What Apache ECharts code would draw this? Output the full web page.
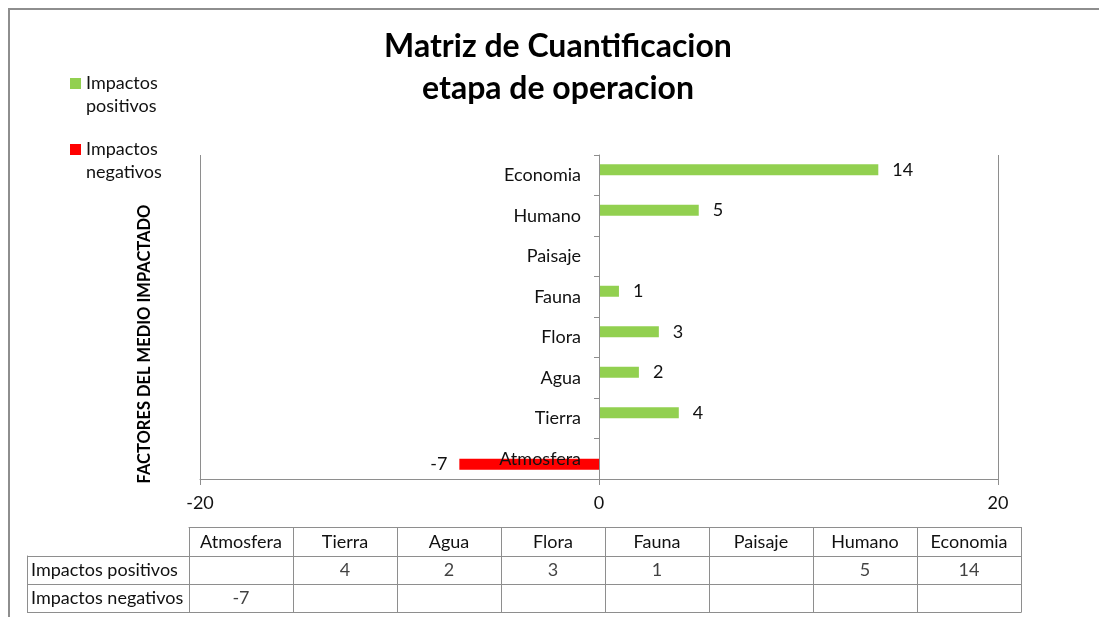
<!DOCTYPE html>
<html>
<head>
<meta charset="utf-8">
<script src="https://cdn.jsdelivr.net/npm/echarts@6/dist/echarts.min.js"></script>
<style>
  html, body { margin: 0; padding: 0; background: #fff; }
  #container { width: 1099px; height: 617px; }
</style>
</head>
<body>
<div id="container"></div>
<script>
// datos
var factores = ['Atmosfera', 'Tierra', 'Agua', 'Flora', 'Fauna', 'Paisaje', 'Humano', 'Economia'];
var positivos = [null, 4, 2, 3, 1, null, 5, 14];
var negativos = [-7, null, null, null, null, null, null, null];
var filas = ['Impactos positivos', 'Impactos negativos'];
var xTicks = [-20, 0, 20];

var dom = document.getElementById('container');
var myChart = echarts.init(dom);

var gris = '#8e8e8e';
var texto = '#111';
var fuente = 'Lato, "Open Sans", sans-serif';

// celdas de la tabla
var celdas = function (vals, fila) {
    var res = [];
    vals.forEach(function (v, i) {
        if (v !== null) res.push([factores[i], fila, v]);
    });
    return res;
};

var option = {
    backgroundColor: '#fff',
    textStyle: { fontFamily: fuente },
    animation: false,
    title: {
        text: 'Matriz de Cuantificacion\netapa de operacion',
        left: 558,
        textAlign: 'center',
        top: 26,
        padding: 0,
        textStyle: {
            fontFamily: fuente,
            fontSize: 32,
            fontWeight: 'bold',
            color: '#000',
            lineHeight: 42
        }
    },
    legend: {
        orient: 'vertical',
        left: 65,
        top: 44,
        itemGap: -3,
        itemWidth: 11,
        itemHeight: 11,
        icon: 'rect',
        selectedMode: false,
        data: filas,
        // linea vacia arriba para que el cuadro quede a la altura de la primera linea
        formatter: function (name) { return '\n' + name.replace(' ', '\n'); },
        textStyle: {
            fontFamily: fuente,
            fontSize: 18,
            lineHeight: 23,
            color: texto
        }
    },
    graphic: [{
        type: 'rect',
        silent: true,
        shape: { x: 9, y: 9, width: 1200, height: 700 },
        style: { fill: 'none', stroke: gris, lineWidth: 2 }
    }],
    grid: [
        { left: 200, right: 101, top: 155, bottom: 138, containLabel: false, outerBoundsMode: 'none' },
        { left: 189, right: 78, top: 556, bottom: 5, containLabel: false, outerBoundsMode: 'none' }
    ],
    xAxis: [
        {
            gridIndex: 0,
            type: 'value',
            min: xTicks[0],
            max: xTicks[xTicks.length - 1],
            interval: 20,
            axisLine: { show: true, lineStyle: { color: gris } },
            axisTick: { show: true, length: 6, lineStyle: { color: gris } },
            axisLabel: { fontSize: 18, color: texto, margin: 15, fontFamily: fuente },
            splitLine: { show: true, lineStyle: { color: gris } }
        },
        {
            gridIndex: 1,
            type: 'category',
            position: 'top',
            data: factores,
            axisLine: { show: true, lineStyle: { color: gris } },
            axisTick: { show: true, length: 29, lineStyle: { color: gris } },
            axisLabel: { fontSize: 18, color: texto, margin: 5, fontFamily: fuente, interval: 0 },
            splitLine: { show: true, lineStyle: { color: gris } }
        },
        {
            gridIndex: 1,
            type: 'category',
            position: 'top',
            offset: 29,
            data: factores,
            axisLine: { show: true, lineStyle: { color: gris } },
            axisTick: { show: false },
            axisLabel: { show: false }
        },
        {
            gridIndex: 1,
            type: 'category',
            position: 'bottom',
            data: factores,
            axisLine: { show: true, lineStyle: { color: gris } },
            axisTick: { show: false },
            axisLabel: { show: false }
        }
    ],
    yAxis: [
        {
            gridIndex: 0,
            type: 'category',
            z: 5,
            data: factores,
            name: 'FACTORES DEL MEDIO IMPACTADO',
            nameLocation: 'middle',
            nameGap: 47,
            nameTextStyle: {
                fontFamily: fuente,
                fontSize: 16.5,
                fontWeight: 'bold',
                color: '#000',
                padding: [0, 54, 0, 0]
            },
            axisLine: { show: true, onZero: true, lineStyle: { color: gris } },
            axisTick: { show: true, length: 5, lineStyle: { color: gris } },
            // las etiquetas se miden desde el borde del grid, no desde el eje en 0
            axisLabel: { fontSize: 18, color: texto, margin: -381, fontFamily: fuente },
            splitLine: { show: false }
        },
        {
            gridIndex: 1,
            type: 'category',
            inverse: true,
            data: filas,
            axisLine: { show: true, lineStyle: { color: gris } },
            axisTick: { show: true, length: 162, lineStyle: { color: gris } },
            axisLabel: { fontSize: 18, color: texto, margin: 158, align: 'left', fontFamily: fuente },
            splitLine: { show: true, lineStyle: { color: gris } }
        },
        {
            gridIndex: 1,
            type: 'category',
            position: 'left',
            offset: 162,
            inverse: true,
            data: filas,
            axisLine: { show: true, lineStyle: { color: gris } },
            axisTick: { show: false },
            axisLabel: { show: false }
        },
        {
            gridIndex: 1,
            type: 'category',
            position: 'right',
            inverse: true,
            data: filas,
            axisLine: { show: true, lineStyle: { color: gris } },
            axisTick: { show: false },
            axisLabel: { show: false }
        }
    ],
    series: [
        {
            name: filas[0],
            type: 'bar',
            xAxisIndex: 0,
            yAxisIndex: 0,
            barWidth: 11,
            barGap: 0,
            z: 1,
            itemStyle: { color: '#92d050' },
            label: { show: true, position: 'right', distance: 14, fontSize: 18, color: texto, fontFamily: fuente },
            data: positivos
        },
        {
            name: filas[1],
            type: 'bar',
            xAxisIndex: 0,
            yAxisIndex: 0,
            barWidth: 11,
            barGap: 0,
            z: 1,
            itemStyle: { color: '#ff0000' },
            label: { show: true, position: 'left', distance: 12, fontSize: 18, color: texto, fontFamily: fuente },
            data: negativos
        },
        {
            type: 'scatter',
            xAxisIndex: 1,
            yAxisIndex: 1,
            symbolSize: 0,
            silent: true,
            label: {
                show: true, position: 'inside', fontSize: 18, color: texto, fontFamily: fuente,
                formatter: function (p) { return p.value[2]; }
            },
            data: celdas(positivos, filas[0]).concat(celdas(negativos, filas[1]))
        }
    ]
};

myChart.setOption(option);
</script>
</body>
</html>
